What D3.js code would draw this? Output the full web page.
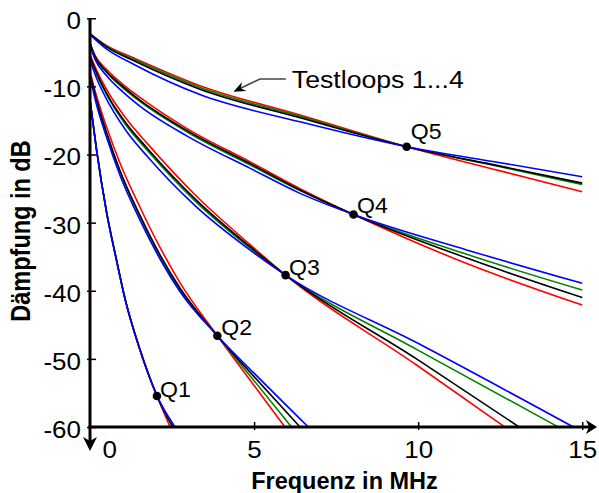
<!DOCTYPE html>
<html>
<head>
<meta charset="utf-8">
<script src="https://cdn.jsdelivr.net/npm/d3@7"></script>
<style>
  body { margin: 0; background: #fff; }
  text { font-family: "Liberation Sans", Arial, sans-serif; }
</style>
</head>
<body>
<script>
const width = 599;
const height = 493;

// axis ticks
const freqTicks = [0, 5, 10, 15];
const dbTicks = [0, -10, -20, -30, -40, -50, -60];

// Testloops 1..4 : red, green, black, blue
const colors = ['red', 'green', 'black', 'blue'];

// [MHz, dB], one list per loop (red, green, black, blue)
const q1Curves = [
    [[0, -12], [0.2, -19.3], [0.5, -28.3], [0.8, -35.3], [1.07, -41.2], [1.52, -48.7], [2.04, -55.45], [2.44, -60]],
    [[0, -12], [0.2, -19.3], [0.5, -28.3], [0.8, -35.3], [1.07, -41.2], [1.52, -48.6], [2.04, -55.45], [2.52, -60]],
    [[0, -12], [0.2, -19.3], [0.5, -28.3], [0.8, -35.3], [1.07, -41.2], [1.52, -48.6], [2.04, -55.45], [2.52, -60]],
    [[0, -12], [0.2, -19.4], [0.5, -28.4], [0.8, -35.4], [1.07, -41.3], [1.52, -48.6], [2.04, -55.4], [2.59, -60]],
];
const q2Curves = [
    [[0, -7.8], [0.2, -11.4], [0.5, -15.9], [0.91, -21.2], [1.52, -27.7], [2.13, -33.6], [2.74, -38.8], [3.88, -46.6], [5.0, -53.9], [5.94, -60]],
    [[0, -8.3], [0.2, -12.2], [0.5, -16.9], [0.91, -22.5], [1.52, -29.1], [2.13, -34.9], [2.74, -39.8], [3.88, -46.6], [5.0, -53.2], [6.14, -60]],
    [[0, -8.2], [0.2, -12.0], [0.5, -16.7], [0.91, -22.3], [1.52, -28.9], [2.13, -34.7], [2.74, -39.6], [3.88, -46.6], [5.0, -52.6], [6.4, -60]],
    [[0, -8.6], [0.2, -12.7], [0.5, -17.4], [0.91, -23.0], [1.52, -29.6], [2.13, -35.3], [2.74, -40.1], [3.88, -46.6], [5.0, -52.1], [6.65, -60]],
];
const q3Curves = [
    [[0, -5.3], [0.2, -7.6], [0.61, -11.3], [1.1, -14.7], [1.75, -18.4], [3.2, -25.9], [4.87, -33.2], [5.96, -37.7], [9.95, -50.9], [12.64, -60]],
    [[0, -5.7], [0.2, -8.2], [0.61, -12.1], [1.1, -15.7], [1.75, -19.4], [3.2, -26.8], [4.87, -33.7], [5.96, -37.7], [9.95, -48.6], [14.27, -60]],
    [[0, -5.6], [0.2, -8.0], [0.61, -11.9], [1.1, -15.4], [1.75, -19.1], [3.2, -26.5], [4.87, -33.5], [5.96, -37.7], [9.95, -50.0], [13.08, -60]],
    [[0, -6.2], [0.2, -8.8], [0.61, -12.8], [1.1, -16.5], [1.75, -20.3], [3.2, -27.5], [4.87, -34.0], [5.96, -37.7], [9.95, -47.6], [14.73, -60]],
];
const q4Curves = [
    [[0, -3.6], [0.15, -5.4], [0.5, -7.5], [1.0, -9.7], [1.52, -11.6], [3, -16.3], [4.87, -21.05], [6.4, -25.0], [8.03, -28.8], [11.48, -36.0], [15, -42.1]],
    [[0, -3.7], [0.15, -5.7], [0.5, -7.9], [1.0, -10.2], [1.52, -12.2], [3, -16.8], [4.87, -21.5], [6.4, -25.3], [8.03, -28.8], [11.48, -34.65], [15, -39.9]],
    [[0, -3.7], [0.15, -5.6], [0.5, -7.8], [1.0, -10.0], [1.52, -12.0], [3, -16.6], [4.87, -21.3], [6.4, -25.2], [8.03, -28.8], [11.48, -35.2], [15, -41.0]],
    [[0, -4.0], [0.15, -6.0], [0.5, -8.4], [1.0, -10.8], [1.52, -12.9], [3, -17.4], [4.87, -22.0], [6.4, -25.7], [8.03, -28.8], [11.48, -34.0], [15, -38.9]],
];
const q5Curves = [
    [[0, -2.3], [0.5, -4.0], [1.37, -5.9], [3.35, -9.9], [6.4, -14.2], [9.65, -18.85], [12.5, -22.4], [15, -25.45]],
    [[0, -2.3], [0.5, -4.1], [1.37, -6.1], [3.35, -10.15], [6.4, -14.4], [9.65, -18.85], [12.5, -21.8], [15, -24.4]],
    [[0, -2.3], [0.5, -4.2], [1.37, -6.3], [3.35, -10.4], [6.4, -14.6], [9.65, -18.85], [12.5, -21.7], [15, -24.2]],
    [[0, -2.4], [0.5, -4.5], [1.37, -6.85], [3.35, -11.2], [6.4, -15.2], [9.65, -18.85], [12.5, -21.2], [15, -23.25]],
];

// marked points
const qNames = ['Q1', 'Q2', 'Q3', 'Q4', 'Q5'];
const qPoints = [[2.04, -55.45], [3.88, -46.6], [5.96, -37.7], [8.03, -28.8], [9.65, -18.85]];

const svg = d3.select('body').append('svg')
    .attr('width', width)
    .attr('height', height)

svg.append('rect').attr('width', width).attr('height', height).attr('fill', '#fff')

const x = d3.scaleLinear().domain([0, 15.45]).range([90, 597])
const y = d3.scaleLinear().domain([0, -60]).range([18.3, 427])

// the picture's text is a little wider than the font
const STRETCH = 1.13

const line = d3.line()
    .x(d => x(d[0]))
    .y(d => y(d[1]))
    .curve(d3.curveMonotoneX)

// les courbes
const allGroups = [q1Curves, q2Curves, q3Curves, q4Curves, q5Curves]
allGroups.forEach(group => {
    svg.append('g').selectAll('path')
        .data(group)
        .enter()
        .append('path')
        .attr('d', line)
        .attr('fill', 'none')
        .attr('stroke', (d, i) => colors[i])
        .attr('stroke-width', 1.6)
})

// axes
const x0 = x(0)
const yBottom = y(-60)
const xEnd = x.range()[1]

svg.append('line')
    .attr('x1', x0 - 1.5).attr('x2', xEnd - 6)
    .attr('y1', yBottom).attr('y2', yBottom)
    .attr('stroke', '#000').attr('stroke-width', 3)
svg.append('path')
    .attr('d', `M${xEnd},${yBottom} L${xEnd - 11},${yBottom - 7} L${xEnd - 8},${yBottom} L${xEnd - 11},${yBottom + 7} Z`)
    .attr('fill', '#000')

const yArrow = yBottom + 24
svg.append('line')
    .attr('x1', x0).attr('x2', x0)
    .attr('y1', y(0)).attr('y2', yArrow - 6)
    .attr('stroke', '#000').attr('stroke-width', 3)
svg.append('path')
    .attr('d', `M${x0},${yArrow} L${x0 - 7},${yArrow - 14} L${x0},${yArrow - 10} L${x0 + 7},${yArrow - 14} Z`)
    .attr('fill', '#000')

const yAxis = d3.axisLeft(y)
    .tickValues(dbTicks)
    .tickFormat(d => String(d))
    .tickSizeInner(-6)
    .tickSizeOuter(0)
    .tickPadding(8)
const gy = svg.append('g')
    .attr('transform', `translate(${x0},0)`)
    .call(yAxis)
    .attr('font-size', 23)
    .attr('font-family', '"Liberation Sans", Arial, sans-serif')
gy.select('.domain').remove()
gy.selectAll('.tick line').attr('x1', -3).attr('stroke-width', 1.5)
gy.selectAll('.tick text')
    .attr('dy', '0.45em')
    .attr('fill', '#000')
    .attr('transform', `scale(${STRETCH},1)`)

const xAxis = d3.axisBottom(x)
    .tickValues(freqTicks)
    .tickFormat(d => String(d))
    .tickSizeInner(3)
    .tickSizeOuter(0)
    .tickPadding(12)
const gx = svg.append('g')
    .attr('transform', `translate(0,${yBottom})`)
    .call(xAxis)
    .attr('font-size', 23)
    .attr('font-family', '"Liberation Sans", Arial, sans-serif')
gx.select('.domain').remove()
gx.selectAll('.tick line').attr('y1', -5).attr('stroke-width', 1.5)
gx.selectAll('.tick text')
    .attr('fill', '#000')
    .attr('transform', `scale(${STRETCH},1)`)
// le 0 est décalé à droite de la flèche
gx.selectAll('.tick').filter(d => d === 0).select('line').remove()
gx.selectAll('.tick').filter(d => d === 0).select('text').attr('dx', 17)

// titres
svg.append('text')
    .attr('x', 344.5)
    .attr('y', 489)
    .attr('text-anchor', 'middle')
    .attr('font-size', 23.5)
    .attr('font-weight', 'bold')
    .text('Frequenz in MHz')

svg.append('text')
    .attr('transform', 'translate(30,231) scale(1.2,1) rotate(-90)')
    .attr('text-anchor', 'middle')
    .attr('font-size', 23.5)
    .attr('font-weight', 'bold')
    .text('Dämpfung in dB')

// points Q1..Q5
svg.selectAll('circle.q')
    .data(qPoints)
    .enter()
    .append('circle')
    .attr('class', 'q')
    .attr('cx', d => x(d[0]))
    .attr('cy', d => y(d[1]))
    .attr('r', 4.3)
    .attr('fill', '#000')

const labelShift = [[3, 1], [4, -1], [3.5, 0], [3.5, -1], [4, -7.5]]
svg.selectAll('text.q')
    .data(qPoints)
    .enter()
    .append('text')
    .attr('class', 'q')
    .attr('transform', (d, i) => `translate(${x(d[0]) + labelShift[i][0]},${y(d[1]) + labelShift[i][1]}) scale(1.05,1)`)
    .attr('font-size', 22)
    .text((d, i) => qNames[i])

// annotation Testloops
const tip = [4.37, -10.78]
const knee = [5.18, -8.91]
const labelPos = [6.15, -10.28]
svg.append('path')
    .attr('d', `M${x(labelPos[0]) - 6},${y(knee[1])} L${x(knee[0])},${y(knee[1])} L${x(tip[0]) + 6},${y(tip[1]) - 3}`)
    .attr('fill', 'none')
    .attr('stroke', '#444')
    .attr('stroke-width', 1.5)
const ang = Math.atan2(y(tip[1]) - y(knee[1]), x(tip[0]) - x(knee[0]))
const tx = x(tip[0]), ty = y(tip[1])
const back = (len, off) => [tx - len * Math.cos(ang) - off * Math.sin(ang), ty - len * Math.sin(ang) + off * Math.cos(ang)]
const a1 = back(12, 5), a2 = back(8, 0), a3 = back(12, -5)
svg.append('path')
    .attr('d', `M${tx},${ty} L${a1} L${a2} L${a3} Z`)
    .attr('fill', '#000')
svg.append('text')
    .attr('transform', `translate(${x(labelPos[0])},${y(labelPos[1])}) scale(1.16,1)`)
    .attr('font-size', 23)
    .text('Testloops 1...4')
</script>
</body>
</html>
